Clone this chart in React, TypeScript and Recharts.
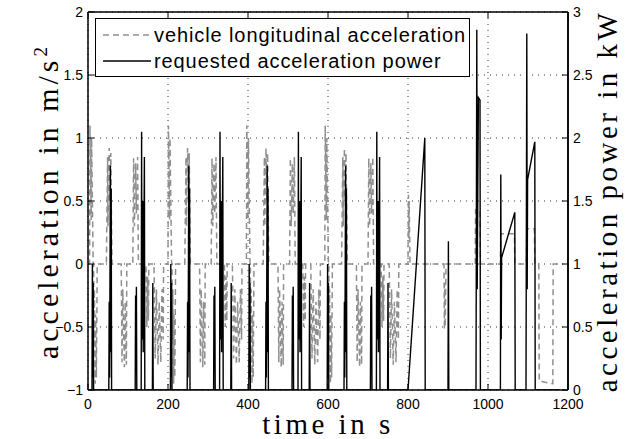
import { CartesianGrid, Line, LineChart, ReferenceLine, XAxis, YAxis } from "recharts";

// axis ticks
const timeTicks = [0, 200, 400, 600, 800, 1000, 1200];
const accelTicks = [-1, -0.5, 0, 0.5, 1, 1.5, 2];
const powerTicks = [0, 0.5, 1, 1.5, 2, 2.5, 3];

// start time of each of the four urban cycles (s)
const cycleStarts = [0, 196, 392, 588];

// one urban cycle, [time in cycle (s), acceleration (m/s²)]
const urbanAccel: [number, number][] = [
  [0, 0], [4, 0], [5, 1.1], [8, 0.35], [9, 1.0], [13, 0],
  [14, 0], [15, -0.6], [16, -0.2], [18, -0.95], [19, -0.4], [21, -0.9], [23, 0],
  [46, 0], [49, 0.85], [50, 0.3], [53, 0.92], [55, 0.5], [57, 0.88], [60, 0],
  [83, 0], [85, -0.78], [87, -0.2], [91, -0.82], [93, -0.3], [96, -0.8], [97, 0],
  [112, 0], [114, 0.84], [116, 0.3], [119, 0.8], [121, 0.4], [124, 0.85], [126, 0],
  [145, 0], [147, -0.5], [149, -0.1], [151, -0.45], [152, 0],
  [165, 0], [168, -0.75], [171, -0.2], [175, -0.8], [178, -0.3], [182, -0.78], [185, -0.2], [188, -0.6], [189, 0],
];

// one urban cycle, [time in cycle (s), power (kW)]
const urbanPower: [number, number][] = [
  [0, 0], [10, 0], [11, 1.0], [12, 0.1], [13, 0.85], [14, 0],
  [52, 0], [53, 0.7], [54, 0.1], [56, 1.78], [57, 0.3], [58, 1.6], [59, 0],
  [118, 0], [119, 0.75], [120, 0.2], [121, 0.82], [122, 0],
  [133, 0], [134, 2.05], [135, 0.4], [137, 1.5], [138, 0.3], [141, 1.85], [142, 0],
  [161, 0], [162, 0.85], [163, 0],
];

// extra-urban part, absolute time
const extraUrbanAccel: [number, number][] = [
  [784, 0], [800, 0], [801, 0.55], [802, 0.2], [803, 0.5], [805, 0],
  [890, 0], [891, -0.52], [892, -0.15], [893, -0.5], [895, 0],
  [968, 0], [969, 0.43], [980, 0.43], [981, 0],
  [1031, 0], [1032, 0.24], [1066, 0.24], [1067, 0],
  [1096, 0], [1097, 0.28], [1116, 0.28], [1117, 0],
  [1127, 0], [1128, -0.93], [1162, -0.95], [1163, 0], [1180, 0],
];

const extraUrbanPower: [number, number][] = [
  [784, 0], [800, 0], [842, 2.0], [843, 0],
  [900, 0], [901, 1.18], [902, 0],
  [970, 0], [972, 2.86], [973, 0.8], [976, 2.32], [980, 2.3], [981, 0],
  [1031, 0], [1032, 1.71], [1033, 0.4], [1034, 1.05], [1067, 1.41], [1068, 0],
  [1095, 0], [1097, 2.83], [1098, 0.8], [1099, 1.67], [1117, 1.97], [1118, 0],
  [1180, 0],
];

const buildSeries = (cycle: [number, number][], tail: [number, number][]) => [
  ...cycleStarts.flatMap((s) => cycle.map(([t, v]) => ({ t: s + t, v }))),
  ...tail.map(([t, v]) => ({ t, v })),
];

const accelData = buildSeries(urbanAccel, extraUrbanAccel);
const powerData = buildSeries(urbanPower, extraUrbanPower);

const PLOT_LEFT = 88;
const PLOT_RIGHT = 568;
const PLOT_TOP = 12;
const TICK = 6;
const sans = "'Liberation Sans', Arial, Helvetica, sans-serif";
const serif = "'Liberation Serif', 'Times New Roman', serif";

const fmt = (v: number) => (v < 0 ? `\u2212${Math.abs(v)}` : `${v}`);

const BottomTick = ({ x, y, payload }: any) => (
  <g>
    <line x1={x} x2={x} y1={y} y2={y - TICK} stroke="#000" />
    <line x1={x} x2={x} y1={PLOT_TOP} y2={PLOT_TOP + TICK} stroke="#000" />
    <text x={x} y={y + 19} textAnchor="middle" fontSize={14} fontFamily={sans} fill="#000">
      {payload.value}
    </text>
  </g>
);

const LeftTick = ({ x, y, payload }: any) => (
  <g>
    <line x1={x} x2={x + TICK} y1={y} y2={y} stroke="#000" />
    <line x1={PLOT_RIGHT} x2={PLOT_RIGHT - TICK} y1={y} y2={y} stroke="#000" />
    <text x={x - 5} y={y + 5} textAnchor="end" fontSize={14} fontFamily={sans} fill="#000">
      {fmt(payload.value)}
    </text>
  </g>
);

const RightTick = ({ x, y, payload }: any) => (
  <text x={x + 5} y={y + 5} textAnchor="start" fontSize={14} fontFamily={sans} fill="#000">
    {fmt(payload.value)}
  </text>
);

const titleStyle = {
  position: "absolute" as const,
  height: 34,
  lineHeight: "34px",
  textAlign: "center" as const,
  fontFamily: serif,
  fontSize: 29,
  letterSpacing: 3.5,
  whiteSpace: "nowrap" as const,
};

export default function App() {
  return (
    <div style={{ position: "absolute", left: 0, top: 0, width: 627, height: 439, background: "#fff", overflow: "hidden" }}>
      <LineChart width={627} height={439} margin={{ top: PLOT_TOP, right: 0, bottom: 0, left: 0 }}>
        <CartesianGrid stroke="#333" strokeDasharray="1 5" strokeWidth={1} />
        <XAxis
          dataKey="t"
          type="number"
          domain={[0, 1200]}
          ticks={timeTicks}
          height={49}
          tickSize={0}
          tickMargin={0}
          tickLine={false}
          axisLine={{ stroke: "#000", strokeWidth: 1.5 }}
          tick={<BottomTick />}
          allowDataOverflow
        />
        <YAxis
          type="number"
          domain={[-1, 2]}
          ticks={accelTicks}
          width={PLOT_LEFT}
          tickSize={0}
          tickMargin={0}
          tickLine={false}
          axisLine={{ stroke: "#000", strokeWidth: 1.5 }}
          tick={<LeftTick />}
          allowDataOverflow
        />
        <YAxis
          yAxisId="right"
          orientation="right"
          type="number"
          domain={[0, 3]}
          ticks={powerTicks}
          width={627 - PLOT_RIGHT}
          tickSize={0}
          tickMargin={0}
          tickLine={false}
          axisLine={{ stroke: "#000", strokeWidth: 1.5 }}
          tick={<RightTick />}
          allowDataOverflow
        />
        <Line
          data={accelData}
          dataKey="v"
          type="linear"
          stroke="#8f8f8f"
          strokeWidth={1.5}
          strokeDasharray="6 4"
          dot={false}
          isAnimationActive={false}
        />
        <Line
          data={powerData}
          dataKey="v"
          yAxisId="right"
          type="linear"
          stroke="#000"
          strokeWidth={1.4}
          dot={false}
          isAnimationActive={false}
        />
        <ReferenceLine y={2} stroke="#000" strokeWidth={1.5} />
        <ReferenceLine x={1200} stroke="#000" strokeWidth={1.5} />
      </LineChart>

      {/* legend */}
      <div
        style={{
          position: "absolute",
          left: 95,
          top: 18,
          width: 375,
          height: 59,
          boxSizing: "border-box",
          border: "1.5px solid #000",
          background: "#fff",
          fontFamily: sans,
          fontSize: 20,
          letterSpacing: 0.9,
        }}
      >
        <svg width={48} height={4} style={{ position: "absolute", left: 7, top: 14 }}>
          <line x1={0} x2={48} y1={2} y2={2} stroke="#8f8f8f" strokeWidth={1.5} strokeDasharray="6 4" />
        </svg>
        <div style={{ position: "absolute", left: 58, top: 3, lineHeight: "26px", whiteSpace: "nowrap" }}>
          vehicle longitudinal acceleration
        </div>
        <svg width={48} height={4} style={{ position: "absolute", left: 7, top: 40 }}>
          <line x1={0} x2={48} y1={2} y2={2} stroke="#000" strokeWidth={1.5} />
        </svg>
        <div style={{ position: "absolute", left: 58, top: 29, lineHeight: "26px", whiteSpace: "nowrap" }}>
          requested acceleration power
        </div>
      </div>

      {/* axis titles */}
      <div
        style={{
          ...titleStyle,
          fontSize: 30,
          letterSpacing: 4,
          left: 41 - 200,
          top: 203 - 17,
          width: 400,
          transform: "rotate(-90deg)",
        }}
      >
        acceleration in m/s<sup style={{ fontSize: 19, letterSpacing: 0 }}>2</sup>
      </div>
      <div style={{ ...titleStyle, left: 607 - 220, top: 201 - 17, width: 440, transform: "rotate(-90deg)" }}>
        acceleration power in kW
      </div>
      <div style={{ ...titleStyle, left: 328 - 150, top: 411, width: 300, height: 26, lineHeight: "26px" }}>
        time in s
      </div>
    </div>
  );
}
